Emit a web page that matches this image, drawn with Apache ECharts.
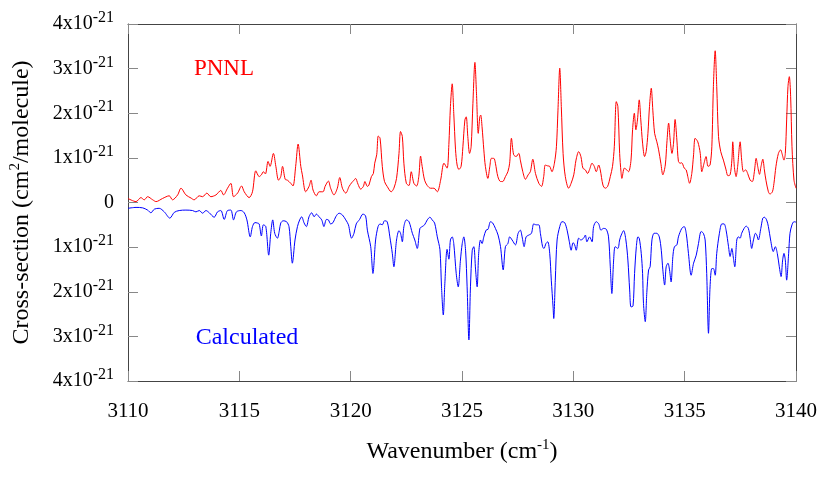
<!DOCTYPE html>
<html>
<head>
<meta charset="utf-8">
<script src="https://cdn.jsdelivr.net/npm/echarts@6/dist/echarts.min.js"></script>
<style>
  html, body { margin: 0; padding: 0; background: #fff; }
  #chart { width: 830px; height: 498px; }
</style>
</head>
<body>
<div id="chart"></div>
<script>
// cross-sections in units of 1e-21 cm^2/molecule, [wavenumber, value]
const pnnl = [
  [3110.00, 0.09], [3110.36, 0.02], [3110.58, 0.11], [3110.73, 0.06], [3110.88, 0.13],
  [3111.11, 0.06], [3111.26, 0.02], [3111.55, 0.09], [3111.85, 0.15], [3112.00, 0.06],
  [3112.23, 0.17], [3112.38, 0.32], [3112.60, 0.17], [3112.83, 0.10], [3112.97, 0.06],
  [3113.20, 0.15], [3113.35, 0.13], [3113.54, 0.21], [3113.72, 0.13], [3113.95, 0.17],
  [3114.17, 0.27], [3114.29, 0.17], [3114.47, 0.32], [3114.62, 0.43], [3114.74, 0.13],
  [3114.92, 0.21], [3115.10, 0.37], [3115.22, 0.24], [3115.44, 0.11], [3115.59, 0.24],
  [3115.74, 0.71], [3115.89, 0.58], [3115.99, 0.62], [3116.08, 0.69], [3116.17, 0.64],
  [3116.29, 0.92], [3116.38, 0.81], [3116.53, 1.10], [3116.64, 0.81], [3116.76, 0.50],
  [3116.86, 0.58], [3116.94, 0.81], [3117.06, 0.52], [3117.16, 0.50], [3117.31, 0.43],
  [3117.41, 0.37], [3117.53, 0.81], [3117.64, 1.31], [3117.76, 0.81], [3117.83, 0.62],
  [3117.98, 0.24], [3118.13, 0.36], [3118.22, 0.50], [3118.31, 0.28], [3118.46, 0.15],
  [3118.58, 0.24], [3118.76, 0.24], [3118.85, 0.36], [3119.00, 0.48], [3119.10, 0.32],
  [3119.25, 0.17], [3119.40, 0.32], [3119.51, 0.56], [3119.63, 0.32], [3119.78, 0.21],
  [3119.93, 0.36], [3120.04, 0.44], [3120.15, 0.50], [3120.22, 0.54], [3120.33, 0.41],
  [3120.45, 0.30], [3120.57, 0.36], [3120.64, 0.47], [3120.75, 0.36], [3120.82, 0.39],
  [3120.93, 0.58], [3121.02, 0.65], [3121.08, 0.88], [3121.17, 1.07], [3121.24, 1.49],
  [3121.32, 1.44], [3121.42, 0.81], [3121.52, 0.47], [3121.64, 0.36], [3121.82, 0.24],
  [3121.94, 0.32], [3122.06, 0.54], [3122.17, 1.10], [3122.24, 1.59], [3122.32, 1.48],
  [3122.39, 0.88], [3122.50, 0.43], [3122.62, 0.38], [3122.72, 0.69], [3122.84, 0.43],
  [3122.96, 0.37], [3123.06, 0.58], [3123.14, 1.04], [3123.21, 0.81], [3123.32, 0.50],
  [3123.44, 0.38], [3123.59, 0.32], [3123.74, 0.32], [3123.89, 0.24], [3124.04, 0.50],
  [3124.19, 0.88], [3124.33, 0.77], [3124.41, 1.30], [3124.48, 2.15], [3124.56, 2.66],
  [3124.63, 2.00], [3124.71, 1.18], [3124.78, 0.84], [3124.86, 0.74], [3124.96, 0.81],
  [3125.04, 1.25], [3125.13, 1.85], [3125.19, 1.92], [3125.26, 1.48], [3125.34, 1.10],
  [3125.41, 1.25], [3125.49, 2.22], [3125.58, 3.14], [3125.65, 2.45], [3125.73, 1.55],
  [3125.80, 1.92], [3125.84, 1.96], [3125.90, 1.70], [3125.98, 1.18], [3126.05, 0.81],
  [3126.16, 0.54], [3126.25, 0.81], [3126.32, 0.99], [3126.43, 0.99], [3126.50, 0.88],
  [3126.61, 0.58], [3126.73, 0.47], [3126.83, 0.47], [3126.95, 0.58], [3127.06, 0.69],
  [3127.14, 0.88], [3127.22, 1.44], [3127.32, 1.07], [3127.43, 1.03], [3127.55, 1.10],
  [3127.62, 0.95], [3127.73, 0.69], [3127.85, 0.52], [3127.97, 0.62], [3128.07, 0.69],
  [3128.18, 0.97], [3128.30, 0.65], [3128.45, 0.43], [3128.57, 0.36], [3128.67, 0.58],
  [3128.74, 0.84], [3128.85, 0.82], [3128.94, 0.81], [3129.04, 0.69], [3129.15, 0.88],
  [3129.24, 1.25], [3129.31, 2.07], [3129.39, 3.01], [3129.46, 2.15], [3129.54, 1.10],
  [3129.64, 0.58], [3129.79, 0.32], [3129.90, 0.43], [3130.02, 0.62], [3130.12, 0.95],
  [3130.24, 1.14], [3130.34, 1.03], [3130.43, 0.77], [3130.54, 0.73], [3130.64, 0.65],
  [3130.73, 0.74], [3130.84, 0.88], [3130.94, 0.81], [3131.03, 0.69], [3131.14, 0.84],
  [3131.21, 0.73], [3131.33, 0.39], [3131.43, 0.32], [3131.54, 0.36], [3131.66, 0.58],
  [3131.76, 0.81], [3131.84, 1.25], [3131.93, 2.26], [3132.00, 2.15], [3132.08, 1.10],
  [3132.14, 0.69], [3132.18, 0.54], [3132.29, 0.77], [3132.38, 0.74], [3132.48, 0.69],
  [3132.59, 0.95], [3132.66, 1.63], [3132.74, 2.00], [3132.81, 1.63], [3132.88, 1.85],
  [3132.96, 2.30], [3133.03, 1.85], [3133.11, 1.33], [3133.20, 1.03], [3133.27, 1.14],
  [3133.35, 1.55], [3133.42, 2.15], [3133.50, 2.56], [3133.57, 2.07], [3133.65, 1.55],
  [3133.75, 1.36], [3133.83, 1.18], [3133.93, 0.88], [3134.02, 0.62], [3134.13, 0.84],
  [3134.20, 1.33], [3134.28, 1.78], [3134.35, 1.40], [3134.43, 1.10], [3134.50, 1.33],
  [3134.57, 1.86], [3134.65, 1.40], [3134.72, 0.92], [3134.80, 0.88], [3134.87, 0.89],
  [3134.98, 0.77], [3135.07, 0.73], [3135.14, 0.58], [3135.22, 0.43], [3135.32, 0.65],
  [3135.40, 1.07], [3135.47, 1.44], [3135.59, 1.36], [3135.70, 1.10], [3135.77, 0.69],
  [3135.87, 0.88], [3135.96, 1.03], [3136.05, 0.81], [3136.14, 0.84], [3136.22, 1.25],
  [3136.29, 2.60], [3136.37, 3.40], [3136.44, 2.60], [3136.52, 1.48], [3136.62, 1.14],
  [3136.74, 0.95], [3136.86, 0.73], [3136.94, 0.60], [3137.04, 0.62], [3137.12, 0.95],
  [3137.16, 1.36], [3137.23, 0.81], [3137.31, 0.58], [3137.38, 0.81], [3137.49, 1.36],
  [3137.56, 0.95], [3137.64, 0.69], [3137.74, 0.73], [3137.83, 0.65], [3137.94, 0.50],
  [3138.04, 0.47], [3138.13, 0.69], [3138.21, 0.99], [3138.28, 0.81], [3138.36, 0.63],
  [3138.43, 0.81], [3138.51, 0.97], [3138.58, 0.73], [3138.65, 0.50], [3138.76, 0.24],
  [3138.83, 0.19], [3138.94, 0.24], [3139.01, 0.43], [3139.10, 0.81], [3139.21, 1.10],
  [3139.31, 1.18], [3139.37, 1.10], [3139.46, 0.95], [3139.52, 1.10], [3139.58, 1.85],
  [3139.64, 2.60], [3139.70, 2.82], [3139.76, 2.37], [3139.82, 1.25], [3139.91, 0.50],
  [3140.00, 0.32]
];

// calculated cross-sections (positive), drawn mirrored below zero
const calculated = [
  [3110.00, 0.13], [3110.36, 0.11], [3110.66, 0.12], [3110.88, 0.17], [3111.03, 0.23],
  [3111.18, 0.15], [3111.40, 0.13], [3111.63, 0.21], [3111.88, 0.35], [3112.08, 0.22],
  [3112.30, 0.18], [3112.60, 0.17], [3112.90, 0.18], [3113.05, 0.21], [3113.20, 0.18],
  [3113.35, 0.24], [3113.50, 0.18], [3113.65, 0.23], [3113.87, 0.33], [3114.02, 0.21],
  [3114.17, 0.18], [3114.32, 0.38], [3114.47, 0.18], [3114.62, 0.17], [3114.74, 0.39],
  [3114.87, 0.21], [3115.07, 0.18], [3115.22, 0.23], [3115.34, 0.39], [3115.49, 0.77],
  [3115.59, 0.54], [3115.70, 0.45], [3115.81, 0.46], [3115.89, 0.48], [3115.99, 0.75],
  [3116.08, 0.50], [3116.19, 0.54], [3116.32, 1.18], [3116.41, 0.69], [3116.50, 0.39],
  [3116.59, 0.69], [3116.71, 0.80], [3116.80, 0.62], [3116.86, 0.46], [3116.97, 0.41],
  [3117.12, 0.43], [3117.23, 0.54], [3117.31, 0.99], [3117.38, 1.36], [3117.50, 0.84],
  [3117.61, 0.54], [3117.71, 0.39], [3117.80, 0.32], [3117.91, 0.46], [3118.01, 0.54],
  [3118.13, 0.32], [3118.25, 0.23], [3118.36, 0.32], [3118.46, 0.26], [3118.58, 0.32],
  [3118.70, 0.39], [3118.80, 0.54], [3118.91, 0.38], [3119.00, 0.39], [3119.10, 0.48],
  [3119.21, 0.45], [3119.33, 0.32], [3119.48, 0.24], [3119.63, 0.28], [3119.78, 0.39],
  [3119.90, 0.50], [3120.04, 0.80], [3120.15, 0.69], [3120.25, 0.48], [3120.40, 0.38],
  [3120.55, 0.26], [3120.67, 0.30], [3120.75, 0.62], [3120.90, 0.99], [3121.00, 1.59],
  [3121.12, 0.84], [3121.23, 0.54], [3121.32, 0.48], [3121.42, 0.50], [3121.52, 0.41],
  [3121.64, 0.43], [3121.76, 0.77], [3121.87, 1.14], [3121.94, 1.44], [3122.06, 0.84],
  [3122.17, 0.63], [3122.24, 0.69], [3122.32, 0.88], [3122.39, 0.54], [3122.50, 0.39],
  [3122.62, 0.43], [3122.77, 0.69], [3122.88, 0.84], [3122.99, 1.03], [3123.11, 0.58],
  [3123.21, 0.54], [3123.32, 0.50], [3123.44, 0.39], [3123.56, 0.33], [3123.66, 0.39],
  [3123.77, 0.46], [3123.89, 0.77], [3124.01, 1.06], [3124.08, 1.89], [3124.16, 2.52],
  [3124.23, 1.81], [3124.33, 1.05], [3124.41, 1.27], [3124.48, 0.84], [3124.56, 0.77],
  [3124.63, 0.92], [3124.74, 1.59], [3124.83, 1.89], [3124.93, 1.29], [3125.01, 0.92],
  [3125.08, 0.77], [3125.16, 1.07], [3125.23, 1.89], [3125.31, 3.08], [3125.38, 1.89],
  [3125.46, 1.07], [3125.53, 0.99], [3125.61, 1.51], [3125.68, 1.89], [3125.75, 1.14],
  [3125.83, 0.84], [3125.90, 0.92], [3125.98, 0.77], [3126.08, 0.62], [3126.17, 0.60],
  [3126.28, 0.43], [3126.38, 0.46], [3126.50, 0.58], [3126.62, 0.73], [3126.73, 0.99],
  [3126.85, 1.51], [3126.95, 0.99], [3127.06, 0.92], [3127.14, 0.77], [3127.25, 0.84],
  [3127.40, 0.95], [3127.52, 0.69], [3127.62, 0.62], [3127.70, 0.77], [3127.79, 0.99],
  [3127.88, 0.77], [3128.00, 0.73], [3128.12, 0.69], [3128.22, 0.48], [3128.33, 0.50],
  [3128.45, 0.50], [3128.52, 0.69], [3128.62, 0.99], [3128.68, 1.03], [3128.77, 0.92],
  [3128.85, 0.88], [3128.94, 1.14], [3129.01, 1.74], [3129.09, 2.34], [3129.12, 2.60],
  [3129.19, 1.74], [3129.27, 0.84], [3129.39, 0.54], [3129.49, 0.43], [3129.61, 0.45],
  [3129.72, 0.62], [3129.82, 0.88], [3129.90, 1.07], [3129.99, 0.90], [3130.06, 0.95],
  [3130.13, 1.07], [3130.24, 0.80], [3130.34, 0.84], [3130.46, 0.80], [3130.54, 0.73],
  [3130.61, 0.88], [3130.73, 0.77], [3130.84, 0.88], [3130.91, 0.54], [3131.03, 0.43],
  [3131.14, 0.48], [3131.24, 0.62], [3131.36, 0.58], [3131.48, 0.60], [3131.58, 0.77],
  [3131.66, 1.44], [3131.73, 2.04], [3131.81, 1.29], [3131.88, 0.99], [3132.00, 1.03],
  [3132.08, 0.84], [3132.15, 0.73], [3132.26, 0.63], [3132.36, 0.84], [3132.45, 1.29],
  [3132.53, 1.96], [3132.59, 2.34], [3132.68, 2.32], [3132.75, 1.59], [3132.83, 0.99],
  [3132.90, 0.77], [3132.96, 0.80], [3133.05, 1.14], [3133.11, 1.59], [3133.15, 2.26],
  [3133.23, 2.67], [3133.30, 2.02], [3133.38, 1.51], [3133.45, 1.44], [3133.53, 0.84],
  [3133.63, 0.69], [3133.75, 0.69], [3133.86, 0.77], [3133.95, 1.07], [3134.02, 1.51],
  [3134.10, 1.85], [3134.17, 1.44], [3134.25, 1.36], [3134.32, 1.51], [3134.39, 1.78],
  [3134.47, 1.21], [3134.54, 0.99], [3134.65, 0.95], [3134.72, 0.77], [3134.87, 0.58],
  [3134.98, 0.54], [3135.07, 0.69], [3135.17, 1.14], [3135.29, 1.63], [3135.40, 1.36],
  [3135.52, 1.18], [3135.62, 0.92], [3135.74, 0.65], [3135.84, 0.69], [3135.92, 0.84],
  [3135.99, 1.59], [3136.07, 2.93], [3136.14, 1.89], [3136.22, 1.48], [3136.29, 1.48],
  [3136.37, 1.63], [3136.44, 1.14], [3136.56, 0.69], [3136.67, 0.48], [3136.77, 0.48],
  [3136.86, 0.62], [3136.97, 0.99], [3137.04, 1.21], [3137.12, 1.03], [3137.19, 1.25],
  [3137.25, 1.44], [3137.34, 0.84], [3137.41, 0.77], [3137.49, 0.80], [3137.56, 0.69],
  [3137.67, 0.58], [3137.76, 0.53], [3137.86, 0.58], [3137.94, 0.80], [3138.01, 1.03],
  [3138.09, 0.84], [3138.18, 0.69], [3138.24, 0.73], [3138.31, 0.84], [3138.42, 0.58],
  [3138.51, 0.35], [3138.58, 0.33], [3138.68, 0.39], [3138.76, 0.54], [3138.86, 0.84],
  [3138.98, 1.10], [3139.07, 0.99], [3139.16, 1.14], [3139.25, 1.44], [3139.33, 1.66],
  [3139.40, 1.29], [3139.46, 1.14], [3139.52, 1.29], [3139.58, 1.74], [3139.67, 1.14],
  [3139.73, 0.69], [3139.82, 0.50], [3139.91, 0.43], [3140.00, 0.44]
];

const xMin = 3110, xMax = 3140, xStep = 5;
const yMin = -4, yMax = 4, yStep = 1;
const yExponent = '-21';
const seriesNames = ['PNNL', 'Calculated'];

const font = '"Liberation Serif", "DejaVu Serif", serif';
const chart = echarts.init(document.getElementById('chart'));

const axisLine = { show: true, onZero: false, lineStyle: { color: '#444', width: 1 } };
const axisTick = { show: true, inside: true, length: 10, lineStyle: { color: '#888' } };
const superRich = {
  n: { fontFamily: font, fontSize: 20, color: '#000' },
  s: { fontFamily: font, fontSize: 16, color: '#000', padding: [0, 0, 12, 0] }
};
const nameRich = {
  a: { fontFamily: font, fontSize: 24, color: '#000' },
  s: { fontFamily: font, fontSize: 15, color: '#000', padding: [0, 0, 13, 0] }
};

function xAxisOf(pos, labels) {
  return {
    type: 'value', position: pos, min: xMin, max: xMax, interval: xStep,
    axisLine: axisLine, axisTick: axisTick, splitLine: { show: false },
    axisLabel: { show: labels, margin: 20, fontFamily: font, fontSize: 21, color: '#000',
      formatter: v => String(v) }
  };
}
function yAxisOf(pos, labels) {
  return {
    type: 'value', position: pos, min: yMin, max: yMax, interval: yStep,
    axisLine: axisLine, axisTick: axisTick, splitLine: { show: false },
    axisLabel: {
      show: labels, margin: 14,
      formatter: v => v === 0 ? '{n|0}' : '{n|' + Math.abs(v) + 'x10}{s|' + yExponent + '}',
      rich: superRich
    }
  };
}

const xBottom = xAxisOf('bottom', true);
xBottom.name = '{a|Wavenumber (cm}{s|-1}{a|)}';
xBottom.nameLocation = 'middle';
xBottom.nameGap = 57;
xBottom.nameTextStyle = { rich: nameRich };

const yLeft = yAxisOf('left', true);
yLeft.name = '{a|Cross-section (cm}{s|2}{a|/molecule)}';
yLeft.nameLocation = 'middle';
yLeft.nameGap = 92;
yLeft.nameTextStyle = { rich: nameRich };

chart.setOption({
  animation: false,
  backgroundColor: '#fff',
  grid: { left: 127, right: 34, top: 24, bottom: 117 },
  xAxis: [xBottom, xAxisOf('top', false)],
  yAxis: [yLeft, yAxisOf('right', false)],
  graphic: [
    {
      type: 'text', x: 224, y: 69,
      style: { text: seriesNames[0], fill: '#ff0000', font: '23px ' + font,
        align: 'center', verticalAlign: 'middle', textAlign: 'center', textVerticalAlign: 'middle' }
    },
    {
      type: 'text', x: 247, y: 338,
      style: { text: seriesNames[1], fill: '#0000ff', font: '24px ' + font,
        align: 'center', verticalAlign: 'middle', textAlign: 'center', textVerticalAlign: 'middle' }
    }
  ],
  series: [
    {
      name: seriesNames[0], type: 'line', data: pnnl,
      showSymbol: false, smooth: 0.3,
      lineStyle: { color: '#ff0000', width: 1 }
    },
    {
      name: seriesNames[1], type: 'line', data: calculated.map(p => [p[0], -p[1]]),
      showSymbol: false, smooth: 0.3,
      lineStyle: { color: '#0000ff', width: 1 }
    }
  ]
});
</script>
</body>
</html>
